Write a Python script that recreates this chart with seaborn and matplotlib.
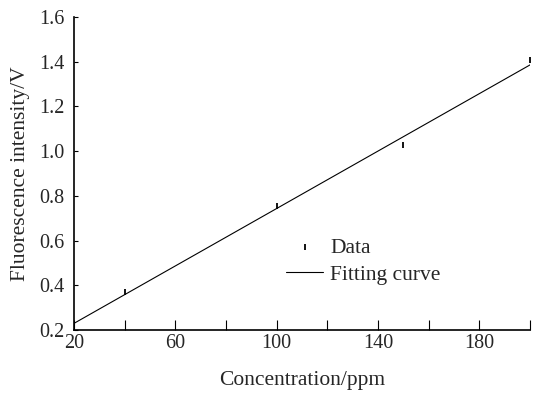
import numpy as np
import pandas as pd
import matplotlib
matplotlib.use("Agg")
import matplotlib.pyplot as plt
import seaborn as sns
from matplotlib.ticker import MultipleLocator

# datos
conc = [40, 100, 150, 200]
intensidad = [0.369, 0.757, 1.029, 1.408]
ajuste_x = [20, 200]
ajuste_y = [0.23, 1.386]

sns.set_theme(style="ticks")
plt.rcParams['font.family'] = ['Liberation Serif', 'DejaVu Serif']

df = pd.DataFrame({"Concentracion": conc, "Intensidad": intensidad})
df_fit = pd.DataFrame({"x": ajuste_x, "y": ajuste_y})

fig = plt.figure(figsize=(5.35, 3.94), dpi=100)
ax = fig.add_axes([0.138, 0.162, 0.853, 0.795])

sns.lineplot(data=df_fit, x="x", y="y", color="black", linewidth=0.8,
             ax=ax, label="Fitting curve")
sns.scatterplot(data=df, x="Concentracion", y="Intensidad", marker="|",
                s=18, linewidth=1.3, color="black", ax=ax, label="Data")

ax.set_xlim(20, 200)
ax.set_ylim(0.2, 1.6)
ax.xaxis.set_minor_locator(MultipleLocator(20))
ax.set_xticks([20, 60, 100, 140, 180])
ax.yaxis.set_major_locator(MultipleLocator(0.2))
ax.set_yticklabels([f"{v:.1f}" for v in ax.get_yticks()])
ax.tick_params(axis="both", which="both", direction="in", color="black",
               labelsize=14.5, width=0.8)
ax.tick_params(axis="x", which="both", length=7, pad=3)
ax.tick_params(axis="y", which="major", length=3, pad=7)
ax.set_xlabel("Concentration/ppm", fontsize=15.5, labelpad=13)
ax.set_ylabel("Fluorescence intensity/V", fontsize=15.5, labelpad=6)
for s in ["top", "right"]:
    ax.spines[s].set_visible(False)
for s in ["left", "bottom"]:
    ax.spines[s].set_linewidth(1.2)
    ax.spines[s].set_color("black")

h, l = ax.get_legend_handles_labels()
ax.legend(h[::-1], l[::-1], loc="center left", bbox_to_anchor=(0.423, 0.22),
          frameon=False, fontsize=15.5, handlelength=1.7, handletextpad=0.33,
          labelspacing=0.3)

fig.savefig("out.png", dpi=100)
plt.close()
